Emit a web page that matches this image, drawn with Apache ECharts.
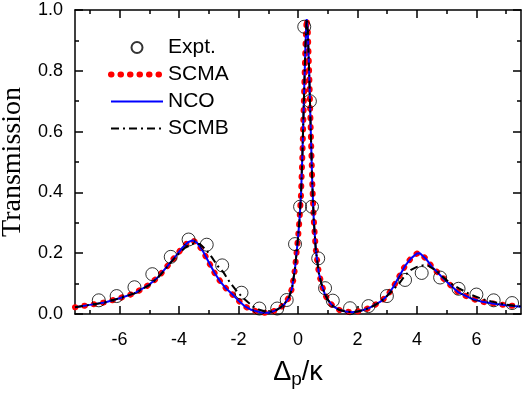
<!DOCTYPE html>
<html>
<head>
<meta charset="utf-8">
<script src="https://cdn.jsdelivr.net/npm/echarts@6/dist/echarts.min.js"></script>
<style>
  html, body { margin: 0; padding: 0; background: #fff; }
  #chart { width: 524px; height: 393px; }
</style>
</head>
<body>
<div id="chart"></div>
<script>
  // theory curves (NCO and SCMA lie on top of each other)
  const curveX = [-7.5, -7.0, -6.5, -6.0, -5.5, -5.0, -4.7, -4.4, -4.1, -3.9, -3.7, -3.55, -3.4, -3.2, -3.0, -2.8, -2.6, -2.4, -2.2, -2.0, -1.8, -1.6, -1.4, -1.2, -1.0, -0.8, -0.6, -0.45, -0.3, -0.2, -0.1, 0.0, 0.05, 0.1, 0.15, 0.2, 0.25, 0.29, 0.33, 0.38, 0.43, 0.48, 0.53, 0.6, 0.7, 0.8, 0.9, 1.0, 1.1, 1.2, 1.4, 1.6, 1.8, 2.0, 2.2, 2.4, 2.6, 2.8, 3.0, 3.2, 3.4, 3.6, 3.8, 4.0, 4.1, 4.3, 4.5, 4.8, 5.1, 5.4, 5.8, 6.2, 6.6, 7.0, 7.5];
  const ncoY = [0.022, 0.03, 0.038, 0.052, 0.068, 0.097, 0.122, 0.157, 0.192, 0.217, 0.236, 0.242, 0.235, 0.207, 0.17, 0.134, 0.105, 0.082, 0.064, 0.044, 0.026, 0.015, 0.009, 0.004, 0.004, 0.01, 0.02, 0.033, 0.055, 0.085, 0.15, 0.25, 0.31, 0.39, 0.53, 0.71, 0.88, 0.97, 0.93, 0.78, 0.6, 0.43, 0.31, 0.21, 0.135, 0.095, 0.066, 0.047, 0.034, 0.024, 0.013, 0.008, 0.006, 0.008, 0.013, 0.02, 0.031, 0.042, 0.06, 0.088, 0.123, 0.158, 0.183, 0.199, 0.2, 0.182, 0.156, 0.126, 0.097, 0.071, 0.052, 0.04, 0.034, 0.029, 0.024];
  const scmaY = [0.022, 0.03, 0.038, 0.052, 0.068, 0.097, 0.122, 0.157, 0.192, 0.217, 0.236, 0.242, 0.235, 0.207, 0.17, 0.134, 0.105, 0.082, 0.064, 0.044, 0.026, 0.015, 0.009, 0.004, 0.004, 0.01, 0.02, 0.033, 0.055, 0.085, 0.15, 0.25, 0.31, 0.39, 0.53, 0.71, 0.88, 0.97, 0.93, 0.78, 0.6, 0.43, 0.31, 0.21, 0.135, 0.095, 0.066, 0.047, 0.034, 0.024, 0.013, 0.008, 0.006, 0.008, 0.013, 0.02, 0.031, 0.042, 0.06, 0.088, 0.123, 0.158, 0.183, 0.199, 0.2, 0.182, 0.156, 0.126, 0.097, 0.071, 0.052, 0.04, 0.034, 0.029, 0.024];

  // SCMB, slightly lower and broader side peaks
  const scmbX = [-7.5, -7.0, -6.5, -6.0, -5.5, -5.0, -4.7, -4.4, -4.1, -3.8, -3.5, -3.3, -3.1, -2.9, -2.7, -2.5, -2.3, -2.1, -1.9, -1.7, -1.5, -1.3, -1.1, -0.9, -0.7, -0.5, -0.3, -0.2, -0.1, 0.0, 0.05, 0.1, 0.15, 0.2, 0.25, 0.29, 0.33, 0.38, 0.43, 0.48, 0.53, 0.6, 0.7, 0.8, 0.9, 1.0, 1.1, 1.2, 1.4, 1.6, 1.8, 2.0, 2.2, 2.4, 2.6, 2.8, 3.0, 3.2, 3.4, 3.6, 3.8, 4.0, 4.2, 4.4, 4.6, 4.8, 5.1, 5.4, 5.8, 6.2, 6.6, 7.0, 7.5];
  const scmbY = [0.022, 0.03, 0.038, 0.052, 0.068, 0.095, 0.12, 0.155, 0.19, 0.218, 0.232, 0.23, 0.212, 0.187, 0.158, 0.136, 0.105, 0.08, 0.058, 0.04, 0.024, 0.014, 0.008, 0.008, 0.014, 0.028, 0.055, 0.085, 0.15, 0.25, 0.31, 0.39, 0.53, 0.71, 0.88, 0.97, 0.93, 0.78, 0.6, 0.43, 0.31, 0.21, 0.135, 0.095, 0.066, 0.047, 0.034, 0.024, 0.013, 0.008, 0.006, 0.008, 0.013, 0.02, 0.03, 0.042, 0.06, 0.08, 0.1, 0.127, 0.145, 0.155, 0.16, 0.158, 0.145, 0.128, 0.103, 0.085, 0.064, 0.049, 0.039, 0.031, 0.025];

  // measured points
  const exptX = [-6.7, -6.1, -5.5, -4.9, -4.28, -3.68, -3.07, -2.55, -1.9, -1.3, -0.7, -0.38, -0.1, 0.07, 0.21, 0.4, 0.47, 0.68, 0.91, 1.17, 1.75, 2.37, 2.99, 3.6, 4.16, 4.78, 5.4, 6.0, 6.58, 7.2];
  const exptY = [0.045, 0.059, 0.088, 0.131, 0.188, 0.245, 0.228, 0.16, 0.07, 0.018, 0.018, 0.046, 0.23, 0.353, 0.945, 0.7, 0.353, 0.183, 0.085, 0.044, 0.019, 0.026, 0.059, 0.112, 0.135, 0.12, 0.083, 0.064, 0.045, 0.036];

  const majorX = [-6, -4, -2, 0, 2, 4, 6];
  const minorX = [-7, -5, -3, -1, 1, 3, 5, 7];

  function pairs(xs, ys) {
    return xs.map(function (x, i) { return [x, ys[i]]; });
  }

  let ec = echarts.init(document.getElementById('chart'));

  const black = '#000';
  const red = '#ff0000';
  const font = 'Liberation Sans, Arial, sans-serif';
  const dots = { color: red, width: 6, type: [0.5, 9], cap: 'round' };

  // shared x axis pieces (ticks inside, mirrored on top)
  function xAx(pos, ticks, len, withLabel, withLine) {
    return {
      type: 'value',
      position: pos,
      min: -7.5,
      max: 7.5,
      axisLine: { show: withLine, onZero: false, lineStyle: { color: black, width: 1.5 } },
      axisTick: { show: true, inside: true, length: len, customValues: ticks, lineStyle: { color: black, width: 1.5 } },
      axisLabel: { show: withLabel, customValues: majorX, color: black, fontSize: 18, fontFamily: font, margin: 17 },
      splitLine: { show: false }
    };
  }

  function yAx(pos, withLabel) {
    return {
      type: 'value',
      position: pos,
      min: 0,
      max: 1,
      interval: 0.2,
      axisLine: { show: true, onZero: false, lineStyle: { color: black, width: 1.5 } },
      axisTick: { show: true, inside: true, length: 8, lineStyle: { color: black, width: 1.5 } },
      minorTick: { show: true, splitNumber: 2, length: 4, lineStyle: { color: black, width: 1.5 } },
      axisLabel: {
        show: withLabel, color: black, fontSize: 18, fontFamily: font, margin: 12,
        formatter: function (v) { return v.toFixed(1); }
      },
      splitLine: { show: false }
    };
  }

  let xMain = xAx('bottom', majorX, 8, true, true);
  xMain.name = '{a|Δ}{b|p}{a|/κ}';
  xMain.nameLocation = 'middle';
  xMain.nameGap = 42;
  xMain.nameTextStyle = {
    rich: {
      a: { fontSize: 27, fontFamily: font, color: black },
      b: { fontSize: 19, fontFamily: font, color: black, padding: [14, 0, 0, 0] }
    }
  };

  let yMain = yAx('left', true);
  yMain.name = 'Transmission';
  yMain.nameLocation = 'middle';
  yMain.nameGap = 48;
  yMain.nameTextStyle = { fontSize: 28, fontFamily: 'Liberation Serif, Times New Roman, serif', color: black };

  let option = {
    backgroundColor: '#fff',
    animation: false,
    grid: { left: 75, right: 3, top: 10, bottom: 79, containLabel: false, outerBoundsMode: 'none' },
    legend: {
      orient: 'vertical',
      left: 103,
      top: 32,
      itemWidth: 52,
      itemHeight: 11,
      itemGap: 6,
      textStyle: { fontSize: 21, fontFamily: font, color: black },
      data: [
        { name: 'Expt.' },
        { name: 'SCMA', itemStyle: { opacity: 0 }, lineStyle: dots },
        { name: 'NCO', itemStyle: { opacity: 0 } },
        { name: 'SCMB', itemStyle: { opacity: 0 } }
      ]
    },
    xAxis: [
      xMain,
      xAx('bottom', minorX, 4, false, false),
      xAx('top', majorX, 8, false, true),
      xAx('top', minorX, 4, false, false)
    ],
    yAxis: [yMain, yAx('right', false)],
    series: [
      {
        name: 'SCMA',
        type: 'line',
        showSymbol: false,
        symbol: 'none',
        data: pairs(curveX, scmaY),
        lineStyle: dots,
        itemStyle: { color: red },
        z: 2
      },
      {
        name: 'NCO',
        type: 'line',
        showSymbol: false,
        symbol: 'none',
        data: pairs(curveX, ncoY),
        lineStyle: { color: '#0000ff', width: 2 },
        itemStyle: { color: '#0000ff' },
        z: 3
      },
      {
        name: 'SCMB',
        type: 'line',
        showSymbol: false,
        symbol: 'none',
        data: pairs(scmbX, scmbY),
        lineStyle: { color: black, width: 2, type: [8, 4, 2, 4] },
        itemStyle: { color: black },
        z: 4
      },
      {
        name: 'Expt.',
        type: 'scatter',
        symbol: 'circle',
        symbolSize: 13,
        data: pairs(exptX, exptY),
        itemStyle: { color: 'rgba(0,0,0,0)', borderColor: black, borderWidth: 1 },
        z: 5
      }
    ]
  };

  ec.setOption(option);
</script>
</body>
</html>
